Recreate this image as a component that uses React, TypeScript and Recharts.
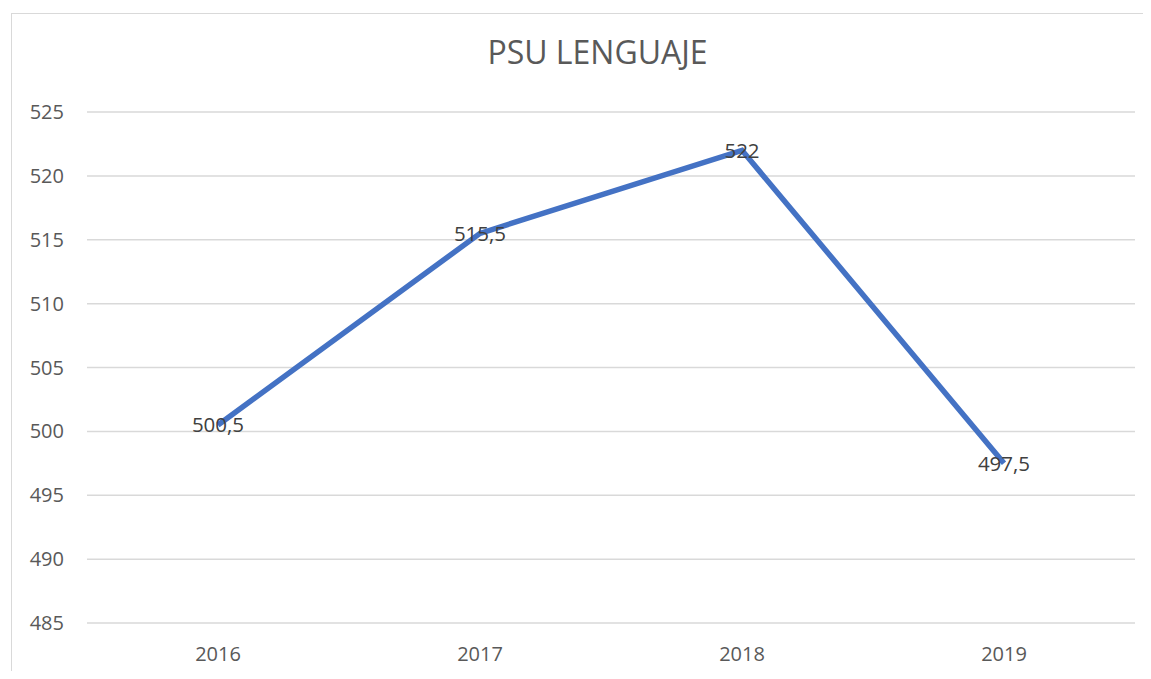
import { LineChart, Line, XAxis, YAxis, CartesianGrid, LabelList } from 'recharts';

const years = ['2016', '2017', '2018', '2019'];
const scores = [500.5, 515.5, 522, 497.5];
const yTicks = [485, 490, 495, 500, 505, 510, 515, 520, 525];

const data = years.map((year, i) => ({ year, score: scores[i] }));

const fontFamily = '"Open Sans", "Noto Sans", sans-serif';
const fmt = (v: number) => String(v).replace('.', ',');

export default function App() {
  return (
    <div style={{ position: 'relative', margin: '-8px', width: 1151, height: 679, overflow: 'hidden', background: '#fff', fontFamily }}>
      {/* chart frame, cut off on the right and bottom like the screenshot */}
      <div style={{ position: 'absolute', left: 11, top: 13, width: 1200, height: 700, border: '1px solid #d9d9d9' }} />
      <div style={{ position: 'absolute', left: 0, top: 30, width: 1151, textAlign: 'center', paddingLeft: 44, boxSizing: 'border-box', fontSize: 32, color: '#595959' }}>
        PSU LENGUAJE
      </div>
      <div style={{ position: 'absolute', left: 0, top: 0 }}>
        <LineChart width={1151} height={679} data={data} margin={{ top: 112, right: 16, bottom: 26, left: 27 }}>
          <CartesianGrid vertical={false} stroke="#d9d9d9" strokeWidth={1.5} />
          <XAxis
            dataKey="year"
            height={30}
            axisLine={false}
            tickLine={false}
            tickSize={0}
            tickMargin={24}
            padding={{ left: 131, right: 131 }}
            tick={{ fill: '#595959', fontSize: 20, fontFamily }}
          />
          <YAxis
            width={60}
            domain={[485, 525]}
            ticks={yTicks}
            axisLine={false}
            tickLine={false}
            tickSize={0}
            tickMargin={23}
            tick={{ fill: '#595959', fontSize: 20, fontFamily }}
          />
          <Line
            type="linear"
            dataKey="score"
            stroke="#4472C4"
            strokeWidth={5.5}
            dot={false}
            isAnimationActive={false}
          >
            <LabelList
              dataKey="score"
              position="center"
              formatter={(v: any) => fmt(Number(v))}
              style={{ fill: '#404040', fontSize: 20.5, fontFamily }}
            />
          </Line>
        </LineChart>
      </div>
    </div>
  );
}
